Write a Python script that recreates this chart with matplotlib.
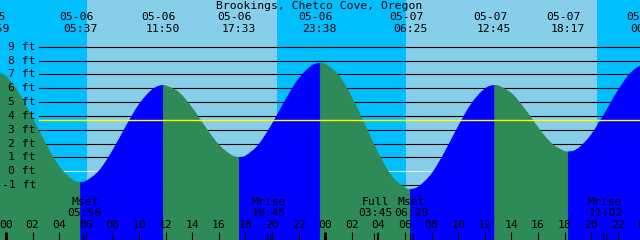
import matplotlib
matplotlib.use("Agg")
import matplotlib.pyplot as plt
from matplotlib.path import Path
from matplotlib.patches import PathPatch

# ---------------- data ----------------
station = "Brookings, Chetco Cove, Oregon"

# water level (hours after 05-06 00:00, feet)
hours = list(range(-1, 49))
heights = [7.30, 6.84, 5.59, 3.82, 1.93, 0.33, -0.63, -0.73, 0.02, 1.45,
           3.19, 4.80, 5.89, 6.19, 5.68, 4.56, 3.16, 1.89, 1.12, 1.09,
           1.91, 3.38, 5.11, 6.66, 7.62, 7.73, 6.92, 5.33, 3.30, 1.26,
           -0.36, -1.22, -1.14, -0.20, 1.38, 3.22, 4.87, 5.94, 6.18, 5.62,
           4.49, 3.15, 2.01, 1.43, 1.62, 2.62, 4.14, 5.79, 7.12, 7.77]

# high / low tides (labelled at the top)
ext_stamps = ["05-05 22:59", "05-06 05:37", "05-06 11:50", "05-06 17:33",
              "05-06 23:38", "05-07 06:25", "05-07 12:45", "05-07 18:17",
              "05-08 00:16"]
ext_heights = [7.3, -0.8, 6.2, 1.0, 7.8, -1.3, 6.2, 1.4, 7.8]

# sunrise / sunset (day = light background)
sun_stamps = ["05-06 06:05", "05-06 20:23", "05-07 06:05", "05-07 20:26"]

# moon events (labelled at the bottom)
moon_names = ["Mset", "Mrise", "Full", "Mset", "Mrise"]
moon_stamps = ["05-06 05:56", "05-06 19:45", "05-07 03:45", "05-07 06:29",
               "05-07 21:02"]

level_ticks = [-1, 0, 1, 2, 3, 4, 5, 6, 7, 8, 9]
msl_level = 3.7
hour_ticks = list(range(0, 49, 2))


def to_hours(stamp):
    d, t = stamp.split()
    day = int(d.split("-")[1])
    hh, mm = t.split(":")
    return (day - 6) * 24 + int(hh) + int(mm) / 60.0


# ---------------- layout (pixels) ----------------
W, H = 640, 240
PX_H = 13.3      # pixels per hour
X0 = 6.0         # pixel of 05-06 00:00
Y0 = 171.3       # pixel row of 0 ft
PX_FT = 13.84    # pixels per foot
LINE_X = 39      # grid lines start here


def px_x(px):
    return (px - X0) / PX_H


def px_y(py):
    return (Y0 - py) / PX_FT


def dx(px_off):
    return px_off / PX_H


DAY = "#87CEEB"
NIGHT = "#00BFFF"
RISE = "#0000FF"
FALL = "#2E8B57"
FONT = dict(family="DejaVu Sans Mono", size=8.2, color="black")

fig = plt.figure(figsize=(W / 100, H / 100), dpi=100)
ax = fig.add_axes([0, 0, 1, 1])
xmin, xmax = px_x(0), px_x(W)
ybot, ytop = px_y(H), px_y(0)
ax.set_xlim(xmin, xmax)
ax.set_ylim(ybot, ytop)
ax.axis("off")

# background day / night
sun_h = [to_hours(s) for s in sun_stamps]
edges = [xmin] + sun_h + [xmax]
for i in range(len(edges) - 1):
    ax.axvspan(edges[i], edges[i + 1], color=NIGHT if i % 2 == 0 else DAY,
               lw=0, zorder=0)

# level lines
for lv in level_ticks:
    col = "#d4f2ff" if lv == 0 else "black"
    ax.axhline(lv, xmin=LINE_X / W, xmax=1, color=col, lw=0.8, zorder=1)

# water fill, coloured by rising / falling; smooth curve through the points
ext_h = [to_hours(s) for s in ext_stamps]
pts = sorted(list(zip(hours, heights)) + list(zip(ext_h, ext_heights)))
ext_set = set(round(e, 6) for e in ext_h)
slopes = []
for i, (t, v) in enumerate(pts):
    if round(t, 6) in ext_set or i == 0 or i == len(pts) - 1:
        slopes.append(0.0)
    else:
        slopes.append((pts[i + 1][1] - pts[i - 1][1]) / (pts[i + 1][0] - pts[i - 1][0]))

for k in range(len(ext_h) - 1):
    a, b = ext_h[k], ext_h[k + 1]
    idx = [i for i, p in enumerate(pts) if a - 1e-9 <= p[0] <= b + 1e-9]
    verts = [(pts[idx[0]][0], pts[idx[0]][1])]
    codes = [Path.MOVETO]
    for i, j in zip(idx[:-1], idx[1:]):
        t0, v0 = pts[i]
        t1, v1 = pts[j]
        d = (t1 - t0) / 3.0
        verts += [(t0 + d, v0 + slopes[i] * d), (t1 - d, v1 - slopes[j] * d), (t1, v1)]
        codes += [Path.CURVE4] * 3
    verts += [(pts[idx[-1]][0], ybot - 1), (pts[idx[0]][0], ybot - 1), verts[0]]
    codes += [Path.LINETO, Path.LINETO, Path.CLOSEPOLY]
    col = RISE if ext_heights[k + 1] > ext_heights[k] else FALL
    ax.add_patch(PathPatch(Path(verts, codes), facecolor=col, edgecolor=col,
                           lw=0.6, zorder=2))

# mean sea level
ax.axhline(msl_level, xmin=LINE_X / W, xmax=1, color="yellow", lw=1.0, zorder=3)

# level labels
for lv in level_ticks:
    ax.text(px_x(36), lv, f"{lv} ft", ha="right", va="center", zorder=5, **FONT)

# title
ax.text(px_x(319), px_y(6), station, ha="center", va="center", zorder=5, **FONT)

# tide labels at top
for s, th in zip(ext_stamps, ext_h):
    d, t = s.split()
    ax.text(th + dx(-4.5), px_y(17.5), d, ha="center", va="center", zorder=5, **FONT)
    ax.text(th + dx(-0.5), px_y(29), t, ha="center", va="center", zorder=5, **FONT)

# hour ticks and labels
for hh in hour_ticks:
    ax.text(hh, px_y(225), f"{hh % 24:02d}", ha="center", va="center", zorder=5, **FONT)
    ax.plot([hh, hh], [px_y(232), px_y(240)], color="black",
            lw=2.2 if hh % 24 == 0 else 0.8, solid_capstyle="butt", zorder=4)

# moon events
for name, s in zip(moon_names, moon_stamps):
    mh = to_hours(s)
    ax.text(mh, px_y(202), name, ha="center", va="center", zorder=5, **FONT)
    ax.text(mh, px_y(213.5), s.split()[1], ha="center", va="center", zorder=5, **FONT)
    for off in (-1.5, 1.5):
        ax.plot([mh + dx(off)] * 2, [px_y(233), px_y(240)], color="black",
                lw=0.8, solid_capstyle="butt", zorder=4)

fig.savefig("out.png", dpi=100)
